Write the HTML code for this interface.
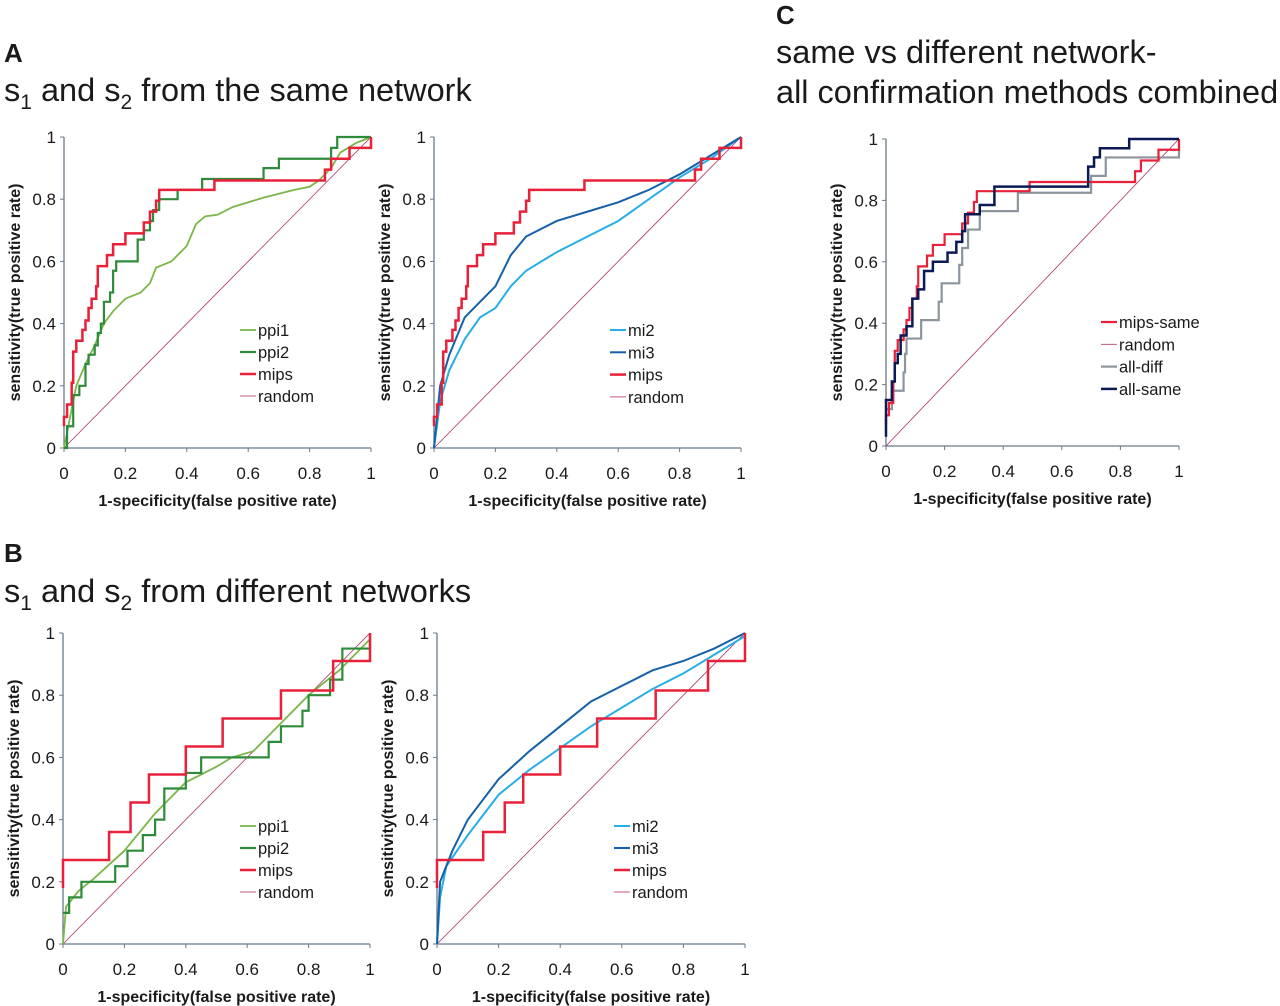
<!DOCTYPE html>
<html><head><meta charset="utf-8"><style>
html,body{margin:0;padding:0;background:#fff;}
svg{display:block;font-family:"Liberation Sans",Arial,sans-serif;}
.t{fill:#1a1a1a;}
</style></head><body>
<svg id="fig" width="1280" height="1006" viewBox="0 0 1280 1006">
<text x="4" y="62" font-size="26" font-weight="bold" class="t">A</text>
<text x="4" y="101" font-size="32.5" class="t">s<tspan font-size="21" dy="8">1</tspan><tspan dy="-8"> and s</tspan><tspan font-size="21" dy="8">2</tspan><tspan dy="-8"> from the same network</tspan></text>
<text x="4" y="562" font-size="26" font-weight="bold" class="t">B</text>
<text x="4" y="602" font-size="32.5" class="t">s<tspan font-size="21" dy="8">1</tspan><tspan dy="-8"> and s</tspan><tspan font-size="21" dy="8">2</tspan><tspan dy="-8"> from different networks</tspan></text>
<text x="776" y="24" font-size="26" font-weight="bold" class="t">C</text>
<text x="776" y="63" font-size="32.5" class="t">same vs different network-</text>
<text x="776" y="103" font-size="32.5" class="t">all confirmation methods combined</text>
</svg>
<script>
// ---- data ----
const ticks = [0, 0.2, 0.4, 0.6, 0.8, 1];
const tickLabels = ["0", "0.2", "0.4", "0.6", "0.8", "1"];
const randomLine = [[0,0],[1,1]];
const mipsSame = [[0,0.07],[0,0.1],[0.01,0.14],[0.025,0.21],[0.03,0.31],[0.04,0.345],[0.06,0.38],[0.07,0.41],[0.08,0.45],[0.09,0.48],[0.105,0.52],[0.11,0.585],[0.14,0.62],[0.16,0.655],[0.2,0.69],[0.26,0.725],[0.28,0.76],[0.3,0.795],[0.31,0.83],[0.49,0.86],[0.83,0.86],[0.85,0.895],[0.87,0.93],[0.93,0.965],[1,0.965],[1,1]];
const ppi2Same = [[0,0],[0.01,0.07],[0.03,0.07],[0.03,0.17],[0.05,0.2],[0.07,0.27],[0.08,0.3],[0.1,0.33],[0.11,0.37],[0.12,0.4],[0.13,0.47],[0.15,0.5],[0.16,0.57],[0.17,0.6],[0.24,0.6],[0.24,0.67],[0.26,0.7],[0.28,0.73],[0.29,0.765],[0.31,0.8],[0.37,0.83],[0.45,0.865],[0.65,0.9],[0.7,0.93],[0.86,0.93],[0.87,0.965],[0.89,1],[1,1]];
const ppi1Same = [[0,0],[0.02,0.1],[0.04,0.2],[0.07,0.27],[0.1,0.33],[0.13,0.4],[0.16,0.44],[0.2,0.48],[0.25,0.5],[0.28,0.53],[0.3,0.58],[0.35,0.6],[0.4,0.65],[0.43,0.72],[0.46,0.745],[0.5,0.75],[0.55,0.775],[0.65,0.805],[0.75,0.83],[0.8,0.84],[0.83,0.86],[0.87,0.9],[0.9,0.95],[0.95,0.98],[1,1]];
const mi2Same = [[0,0],[0.02,0.15],[0.05,0.25],[0.1,0.35],[0.15,0.42],[0.2,0.45],[0.25,0.52],[0.3,0.57],[0.4,0.63],[0.5,0.68],[0.6,0.73],[0.7,0.8],[0.8,0.87],[0.9,0.93],[1,1]];
const mi3Same = [[0,0],[0.02,0.2],[0.05,0.3],[0.1,0.42],[0.15,0.47],[0.2,0.52],[0.25,0.62],[0.3,0.68],[0.4,0.73],[0.5,0.76],[0.6,0.79],[0.7,0.83],[0.8,0.88],[0.9,0.94],[1,1]];
const allSame = [[0,0.03],[0,0.15],[0.02,0.15],[0.02,0.21],[0.03,0.27],[0.04,0.3],[0.05,0.36],[0.07,0.39],[0.09,0.48],[0.11,0.51],[0.13,0.57],[0.16,0.6],[0.21,0.63],[0.24,0.665],[0.26,0.7],[0.27,0.755],[0.32,0.785],[0.37,0.845],[0.69,0.88],[0.69,0.91],[0.71,0.94],[0.73,0.97],[0.83,1],[1,1]];
const allDiff = [[0,0.12],[0.02,0.18],[0.06,0.24],[0.065,0.3],[0.07,0.35],[0.12,0.41],[0.18,0.47],[0.19,0.53],[0.25,0.59],[0.26,0.645],[0.28,0.705],[0.32,0.765],[0.45,0.825],[0.7,0.88],[0.75,0.94],[1,0.94],[1,1]];
const mipsDiff = [[0,0.18],[0,0.27],[0.15,0.36],[0.22,0.455],[0.28,0.545],[0.4,0.635],[0.52,0.725],[0.71,0.815],[0.88,0.91],[1,1]];
const ppi2Diff = [[0,0.1],[0.02,0.15],[0.06,0.2],[0.17,0.25],[0.21,0.3],[0.26,0.35],[0.3,0.4],[0.33,0.5],[0.4,0.55],[0.45,0.6],[0.67,0.65],[0.71,0.7],[0.78,0.75],[0.8,0.8],[0.87,0.85],[0.91,0.95],[1,1]];
const ppi1Diff = [[0,0],[0.01,0.12],[0.05,0.17],[0.1,0.21],[0.2,0.3],[0.3,0.42],[0.4,0.52],[0.5,0.57],[0.55,0.6],[0.62,0.62],[0.7,0.7],[0.8,0.8],[0.9,0.88],[1,0.98]];
const mi2Diff = [[0,0],[0.01,0.15],[0.03,0.25],[0.1,0.35],[0.2,0.48],[0.3,0.56],[0.4,0.63],[0.5,0.7],[0.6,0.76],[0.7,0.82],[0.8,0.87],[0.9,0.93],[1,0.99]];
const mi3Diff = [[0,0],[0.01,0.2],[0.05,0.3],[0.1,0.4],[0.2,0.53],[0.3,0.62],[0.4,0.7],[0.5,0.78],[0.6,0.83],[0.7,0.88],[0.8,0.91],[0.9,0.95],[1,1]];

const NS = "http://www.w3.org/2000/svg";
const svg = document.getElementById('fig');
function mk(tag, attrs, parent){ const e=document.createElementNS(NS,tag); for(const k in attrs) e.setAttribute(k,attrs[k]); (parent||svg).appendChild(e); return e; }

function panel(id, x0, x1, yTop, yBot, series, legend){
  const g = mk('g', {});
  
  
  const sx = v => x0 + v*(x1-x0);
  const sy = v => yBot - v*(yBot-yTop);
  const ax = mk('path', {d:`M${x0},${yTop}V${yBot}H${x1}`, stroke:'#6a7a8a', 'stroke-width':1.3, fill:'none'}, g);
  
  
  ticks.forEach((t,i)=>{
    mk('line',{x1:sx(t),x2:sx(t),y1:yBot,y2:yBot+4,stroke:'#6a7a8a'},g);
    mk('line',{x1:x0-4,x2:x0,y1:sy(t),y2:sy(t),stroke:'#6a7a8a'},g);
    const xl = mk('text',{x:sx(t),y:yBot+31,'font-size':17,'text-anchor':'middle',class:'t'},g);
    xl.textContent = tickLabels[i];
    
    
    const yl = mk('text',{x:x0-8,y:sy(t)+6,'font-size':17,'text-anchor':'end',class:'t'},g);
    yl.textContent = tickLabels[i];
    
    
  });
  const xt = mk('text',{x:(x0+x1)/2,y:yBot+58,'font-size':16,'font-weight':'bold','text-anchor':'middle',class:'t'},g);
  xt.textContent = '1-specificity(false positive rate)';
  
  
  const cy = (yTop+yBot)/2, cx = x0-44;
  const yt = mk('text',{x:cx,y:cy,'font-size':16,'font-weight':'bold','text-anchor':'middle',transform:`rotate(-90 ${cx} ${cy})`,class:'t'},g);
  yt.textContent = 'sensitivity(true positive rate)';
  
  
  series.forEach(s=>{
    let d='';
    s.data.forEach((p,i)=>{
      if(i===0) d+=`M${sx(p[0])},${sy(p[1])}`;
      else if(s.step) d+=`H${sx(p[0])}V${sy(p[1])}`;
      else d+=`L${sx(p[0])},${sy(p[1])}`;
    });
    const pth = mk('path',{d:d,stroke:s.color,'stroke-width':s.w,fill:'none'},g);
    
    
  });
  legend.items.forEach((s,i)=>{
    const y = legend.y + i*legend.dy;
    mk('line',{x1:legend.x,x2:legend.x+16,y1:y,y2:y,stroke:s.color,'stroke-width':s.w},g);
    const lt = mk('text',{x:legend.x+18,y:y+6,'font-size':16.5,class:'t'},g);
    lt.textContent = s.name;
    
    
  });
}
const C = {ppi1:'#7ab648', ppi2:'#2e8b3a', mips:'#e8203a', random:'#b03060', mi2:'#27aee6', mi3:'#1560a8', diff:'#8c959e', same:'#0b1a55'};
const rnd = {name:'random', data:randomLine, color:C.random, w:0.8, step:false};
let s1=[rnd,{name:'ppi1',data:ppi1Same,color:C.ppi1,w:1.8},{name:'ppi2',data:ppi2Same,color:C.ppi2,w:2.2,step:true},{name:'mips',data:mipsSame,color:C.mips,w:2.5,step:true}];
panel('panel-a-ppi',64,371,137,448,s1,{x:240,y:330,dy:22,items:[s1[1],s1[2],s1[3],s1[0]]});
let s2=[rnd,{name:'mi2',data:mi2Same,color:C.mi2,w:2},{name:'mi3',data:mi3Same,color:C.mi3,w:2},{name:'mips',data:mipsSame,color:C.mips,w:2.5,step:true}];
panel('panel-a-mi',434,741,137,448,s2,{x:610,y:330,dy:22.3,items:[s2[1],s2[2],s2[3],s2[0]]});
let s3=[rnd,{name:'all-diff',data:allDiff,color:C.diff,w:2.2,step:true},{name:'mips-same',data:mipsSame,color:C.mips,w:2.2,step:true},{name:'all-same',data:allSame,color:C.same,w:2.5,step:true}];
panel('panel-c',886,1179,139,446,s3,{x:1101,y:322,dy:22.3,items:[s3[2],s3[0],s3[1],s3[3]]});
let s4=[rnd,{name:'ppi1',data:ppi1Diff,color:C.ppi1,w:1.8},{name:'ppi2',data:ppi2Diff,color:C.ppi2,w:2.2,step:true},{name:'mips',data:mipsDiff,color:C.mips,w:2.5,step:true}];
panel('panel-b-ppi',63,370,633,944,s4,{x:240,y:826,dy:22,items:[s4[1],s4[2],s4[3],s4[0]]});
let s5=[rnd,{name:'mi2',data:mi2Diff,color:C.mi2,w:2},{name:'mi3',data:mi3Diff,color:C.mi3,w:2},{name:'mips',data:mipsDiff,color:C.mips,w:2.5,step:true}];
panel('panel-b-mi',437,745,633,944,s5,{x:614,y:826,dy:22,items:[s5[1],s5[2],s5[3],s5[0]]});
</script>
</body></html>
